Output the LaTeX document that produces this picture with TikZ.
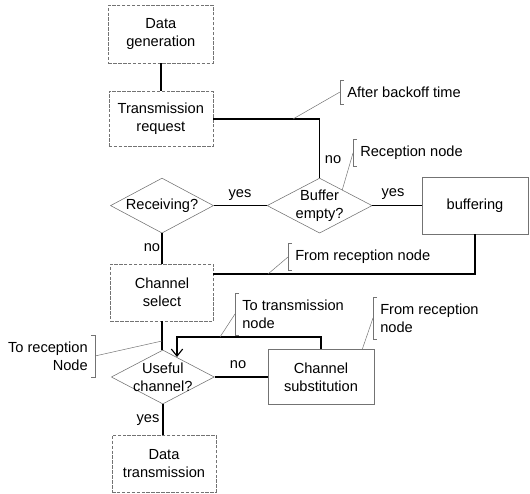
\documentclass[tikz,border=0pt]{standalone}
\usepackage{fontspec}
\setmainfont{Liberation Sans}
\usetikzlibrary{shapes.geometric,calc,arrows.meta}

\tikzset{
  box/.style={draw=black!55,line width=0.4pt,minimum width=2.6cm,minimum height=1.4cm,align=center,inner sep=0pt},
  dbox/.style={box,dash pattern=on 2.5pt off 1pt},
  decision/.style={draw=black!55,line width=0.4pt,diamond,minimum width=2.6cm,minimum height=1.375cm,inner sep=0pt},
  flow/.style={line width=1.2pt},
  leader/.style={draw=black!55,line width=0.35pt},
  callout/.style={align=left,inner xsep=0.175cm,inner ysep=0.16cm},
  tag/.style={inner sep=1pt}
}
\newcommand{\lbracket}[1]{\draw[leader] ([xshift=3pt]#1.north west)--(#1.north west)--(#1.south west)--([xshift=3pt]#1.south west);}
\newcommand{\rbracket}[1]{\draw[leader] ([xshift=-3pt]#1.north east)--(#1.north east)--(#1.south east)--([xshift=-3pt]#1.south east);}

\begin{document}
\begin{tikzpicture}[font=\fontsize{10.4}{12.8}\selectfont]
\useasboundingbox (0,0) rectangle (13.25,-12.325);

\node[dbox,minimum width=2.625cm,minimum height=1.45cm] (gen) at (4.02,-0.85) {Data\\generation};
\node[dbox,minimum height=1.375cm] (req) at (4.02,-2.975) {Transmission\\request};
\node[decision,minimum width=2.575cm,label={center:Receiving?}] (recv) at (4.05,-5.14) {};
\node[decision,minimum width=2.625cm,label={[align=center]center:Buffer\\empty?}] (buf) at (7.99,-5.14) {};
\node[box,minimum width=2.65cm,minimum height=1.425cm] (bufbox) at (11.875,-5.14) {buffering};
\node[dbox,minimum width=2.575cm,minimum height=1.425cm] (sel) at (4.05,-7.3125) {Channel\\select};
\node[decision,minimum width=2.575cm,minimum height=1.35cm,label={[align=center]center:Useful\\channel?}] (useful) at (4.07,-9.425) {};
\node[box,minimum width=2.65cm,minimum height=1.375cm] (subst) at (8.025,-9.425) {Channel\\substitution};
\node[dbox,minimum height=1.425cm] (trans) at (4.1,-11.59) {Data\\transmission};

\coordinate (selin) at (5.325,-6.85);
\coordinate (usein) at (4.425,-8.925);

\draw[flow] (gen.south) -- (gen.south |- req.north);
\draw[flow] (req.east) -| (buf.north);
\draw[flow] (recv.east) -- (buf.west);
\draw[flow] (buf.east) -- (bufbox.west);
\draw[flow] (recv.south) -- (recv.south |- sel.north);
\draw[flow] (bufbox.south) |- (selin);
\draw[flow] (sel.south) -- (sel.south |- useful.north);
\draw[flow] (useful.east) -- (subst.west);
\draw[flow,-{Straight Barb[length=5pt,width=8pt,line width=0.8pt]}] (subst.north) -- ++(0,0.3) -| (usein);
\draw[flow] (useful.south) -- (useful.south |- trans.north);

\node[tag] (yes1) at (6.0,-4.875) {yes};
\node[tag] (no1) at (3.8,-6.2) {no};
\node[tag] (no2) at (8.325,-4.0) {no};
\node[tag] (yes2) at (9.825,-4.85) {yes};
\node[tag] (no3) at (5.95,-9.125) {no};
\node[tag] (yes3) at (3.7,-10.5) {yes};

\node[callout,anchor=west] (after) at (8.5,-2.3) {After backoff time};
\node[callout,anchor=west] (recnode) at (8.825,-3.825) {Reception node};
\node[callout,anchor=west] (fromrx1) at (7.2,-6.425) {From reception node};
\node[callout,anchor=west] (totx) at (5.875,-7.85) {To transmission\\node};
\node[callout,anchor=west] (fromrx2) at (9.325,-7.95) {From reception\\node};
\node[callout,anchor=east,align=right] (torx) at (2.375,-8.9) {To reception\\Node};
\lbracket{after}
\lbracket{recnode}
\lbracket{fromrx1}
\lbracket{totx}
\lbracket{fromrx2}
\rbracket{torx}

\coordinate (afterpt) at (7.325,-2.975);
\coordinate (recpt) at ($(buf.north)!0.43!(buf.east)$);
\coordinate (from1pt) at (6.7,-6.85);
\coordinate (totxpt) at (5.5,-8.425);
\coordinate (from2pt) at ($(subst.north east)+(-0.3,0)$);
\coordinate (torxpt) at (4.05,-8.525);
\draw[leader] (afterpt) -- (after.west);
\draw[leader] (recpt) -- (recnode.west);
\draw[leader] (from1pt) -- (fromrx1.west);
\draw[leader] (totxpt) -- (totx.west);
\draw[leader] (from2pt) -- (fromrx2.west);
\draw[leader] (torxpt) -- (torx.east);
\end{tikzpicture}
\end{document}
